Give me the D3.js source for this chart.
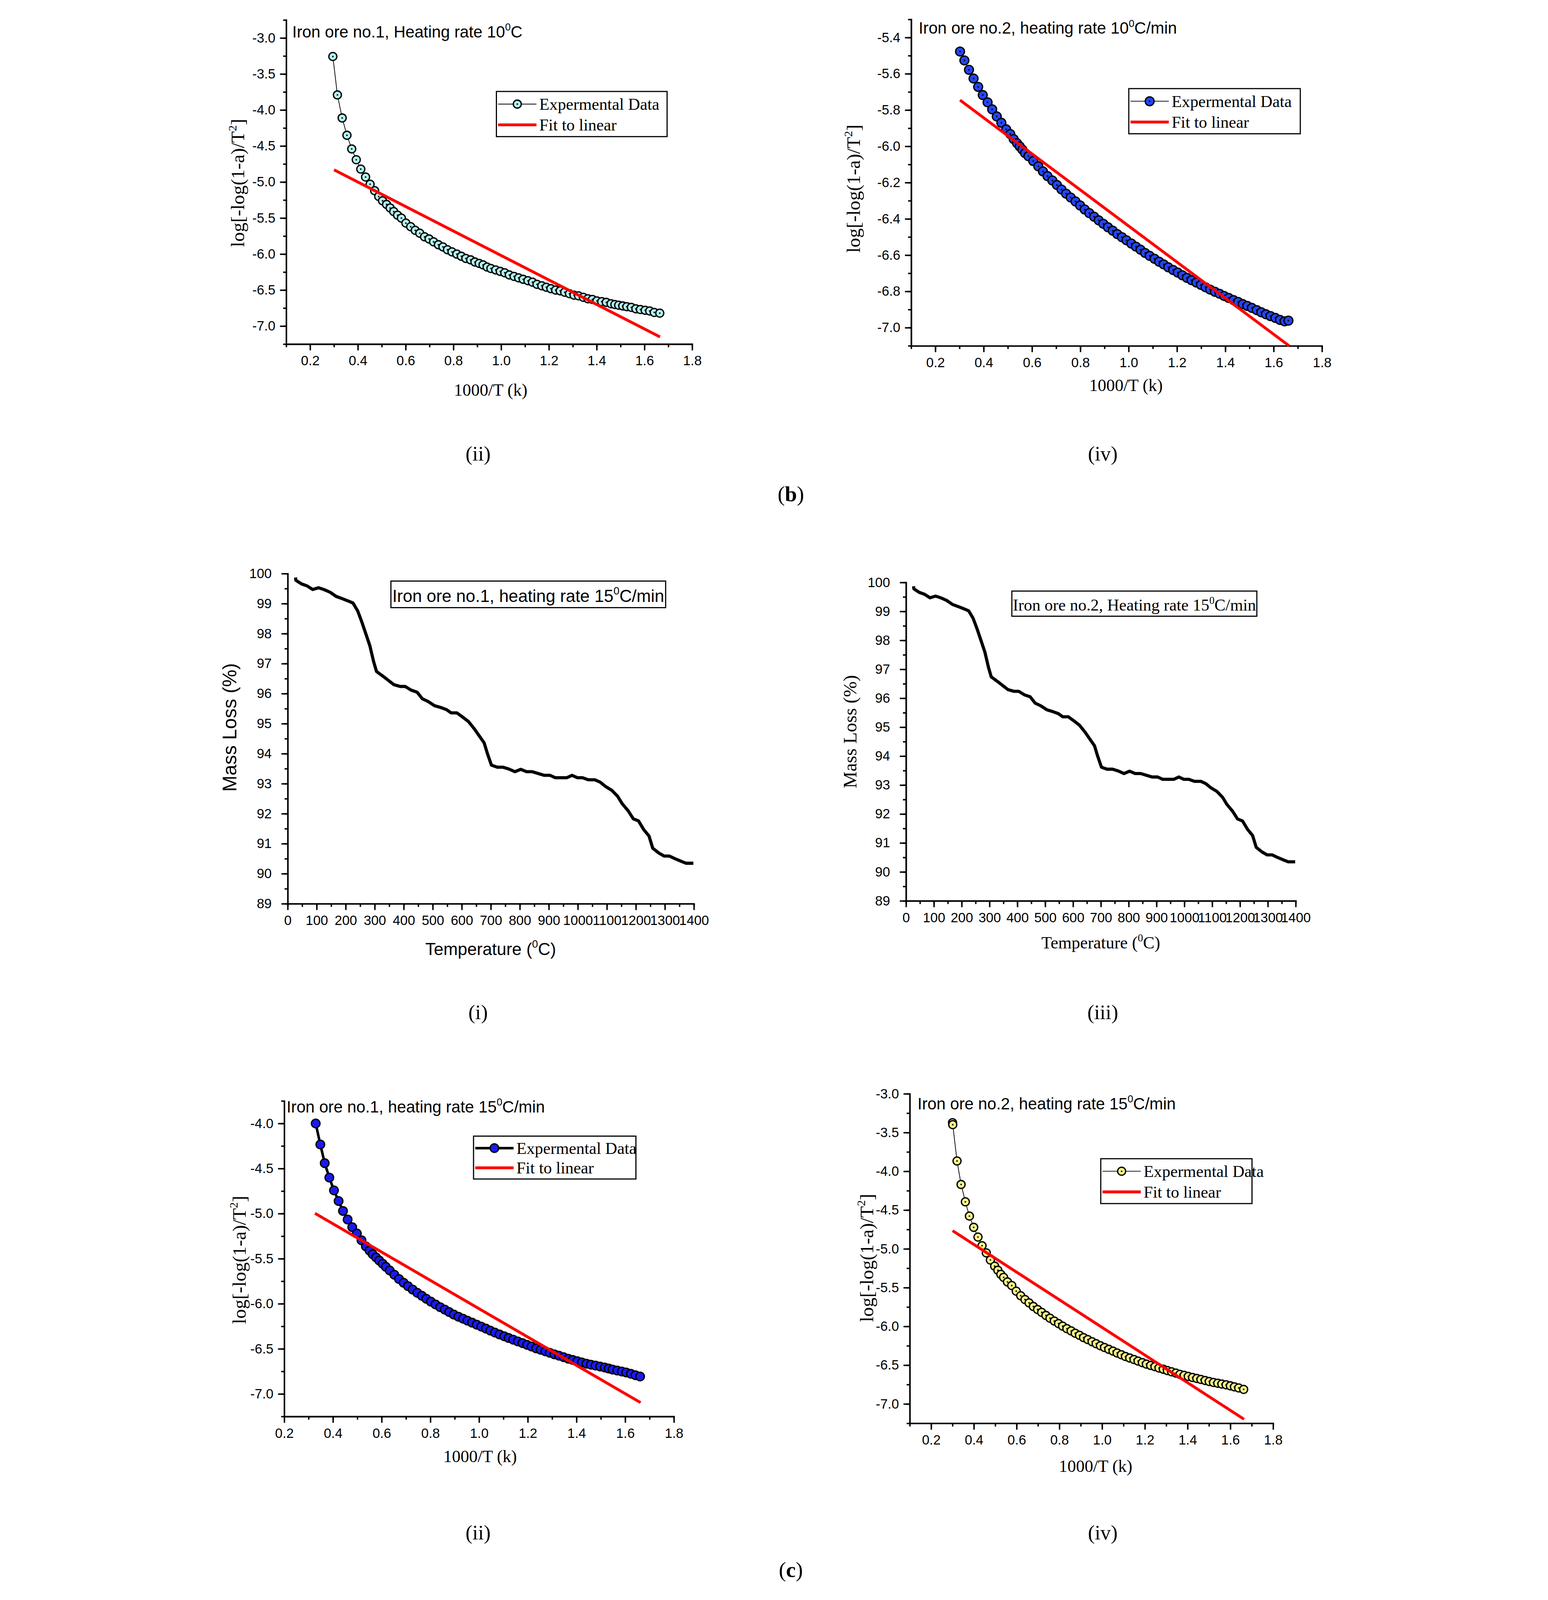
<!DOCTYPE html>
<meta charset="utf-8">
<style>
html, body { margin: 0; padding: 0; background: #fff; overflow: hidden; }
svg { display: block; }
.axis .domain, .axis line { stroke: #000; stroke-width: 5px; }
.axis text { font-family: "Liberation Sans", Arial, sans-serif; font-size: 47px; fill: #000; }
.sans { font-family: "Liberation Sans", Arial, sans-serif; }
.serif { font-family: "Liberation Serif", "Times New Roman", serif; }
</style>
<body>
<script src="https://cdn.jsdelivr.net/npm/d3@7"></script>
<script>

// ---- data ----
// 1000/T vs log[-log(1-a)/T^2], iron ore no.1, 10 C/min
var ore1Rate10 = [[0.295,-3.257],[0.314,-3.79],[0.334,-4.11],[0.354,-4.35],[0.374,-4.54],[0.393,-4.69],[0.412,-4.82],[0.432,-4.93],[0.451,-5.03],[0.47,-5.12],[0.487,-5.20],[0.503,-5.26],[0.52,-5.31],[0.535,-5.36],[0.55,-5.41],[0.566,-5.46],[0.582,-5.50],[0.601,-5.57],[0.621,-5.62],[0.64,-5.67],[0.659,-5.71],[0.679,-5.76],[0.698,-5.79],[0.717,-5.83],[0.737,-5.87],[0.756,-5.90],[0.775,-5.94],[0.794,-5.97],[0.814,-6.00],[0.833,-6.03],[0.852,-6.06],[0.872,-6.08],[0.89,-6.11],[0.908,-6.13],[0.924,-6.15],[0.941,-6.18],[0.957,-6.20],[0.977,-6.22],[0.996,-6.24],[1.015,-6.26],[1.034,-6.29],[1.054,-6.31],[1.073,-6.33],[1.092,-6.35],[1.112,-6.37],[1.131,-6.39],[1.15,-6.42],[1.17,-6.44],[1.189,-6.46],[1.208,-6.48],[1.228,-6.50],[1.247,-6.51],[1.266,-6.53],[1.286,-6.55],[1.305,-6.57],[1.324,-6.58],[1.344,-6.60],[1.363,-6.62],[1.382,-6.63],[1.401,-6.65],[1.421,-6.66],[1.44,-6.67],[1.46,-6.69],[1.476,-6.70],[1.492,-6.71],[1.509,-6.72],[1.526,-6.73],[1.545,-6.74],[1.564,-6.76],[1.583,-6.77],[1.603,-6.78],[1.622,-6.79],[1.641,-6.81],[1.664,-6.82]];
var ore1Rate10Fit = [[0.3,-4.83],[1.665,-7.15]];

// iron ore no.2, 10 C/min
var ore2Rate10 = [[0.302,-5.477],[0.32,-5.526],[0.339,-5.578],[0.358,-5.626],[0.377,-5.672],[0.396,-5.717],[0.416,-5.757],[0.435,-5.796],[0.454,-5.835],[0.473,-5.87],[0.493,-5.906],[0.51,-5.932],[0.524,-5.96],[0.538,-5.983],[0.549,-6.0],[0.56,-6.018],[0.571,-6.037],[0.585,-6.054],[0.605,-6.081],[0.626,-6.11],[0.645,-6.138],[0.664,-6.164],[0.684,-6.188],[0.703,-6.213],[0.722,-6.238],[0.741,-6.261],[0.76,-6.282],[0.78,-6.304],[0.799,-6.326],[0.818,-6.348],[0.837,-6.368],[0.857,-6.388],[0.876,-6.408],[0.895,-6.427],[0.914,-6.446],[0.934,-6.465],[0.953,-6.484],[0.972,-6.501],[0.991,-6.518],[1.011,-6.536],[1.03,-6.553],[1.049,-6.57],[1.068,-6.588],[1.087,-6.604],[1.107,-6.62],[1.126,-6.636],[1.145,-6.651],[1.164,-6.667],[1.184,-6.682],[1.203,-6.696],[1.222,-6.711],[1.241,-6.725],[1.26,-6.738],[1.28,-6.751],[1.299,-6.764],[1.318,-6.777],[1.337,-6.79],[1.357,-6.802],[1.376,-6.813],[1.395,-6.825],[1.414,-6.836],[1.434,-6.848],[1.453,-6.858],[1.472,-6.87],[1.491,-6.88],[1.51,-6.891],[1.53,-6.903],[1.549,-6.915],[1.568,-6.926],[1.587,-6.936],[1.607,-6.946],[1.626,-6.957],[1.645,-6.965],[1.661,-6.961]];
var ore2Rate10Fit = [[0.302,-5.745],[1.664,-7.1]];

// TGA, temperature (C) vs mass loss (%), heating rate 15 C/min (same curve in both ore panels)
var tgaCurve = [[27,99.87],[28,99.78],[47,99.66],[67,99.59],[86,99.47],[106,99.53],[125,99.47],[146,99.38],[167,99.24],[187,99.17],[208,99.09],[225,99.02],[241,98.76],[255,98.40],[268,98.03],[283,97.60],[296,97.07],[306,96.74],[334,96.54],[366,96.30],[388,96.24],[405,96.24],[425,96.12],[446,96.05],[464,95.83],[484,95.74],[506,95.60],[527,95.54],[547,95.47],[563,95.36],[583,95.36],[603,95.22],[623,95.07],[643,94.83],[661,94.58],[677,94.36],[688,94.01],[702,93.62],[722,93.55],[742,93.55],[762,93.49],[783,93.40],[803,93.48],[823,93.40],[843,93.40],[863,93.34],[884,93.28],[904,93.28],[922,93.20],[942,93.20],[962,93.20],[980,93.28],[998,93.20],[1016,93.20],[1036,93.13],[1059,93.13],[1077,93.05],[1095,92.91],[1117,92.78],[1137,92.58],[1153,92.33],[1173,92.10],[1191,91.83],[1209,91.76],[1227,91.47],[1245,91.26],[1258,90.85],[1279,90.69],[1297,90.59],[1315,90.59],[1335,90.50],[1357,90.41],[1373,90.35],[1398,90.35]];

// iron ore no.1, 15 C/min
var ore1Rate15 = [[0.329,-4.0],[0.348,-4.233],[0.366,-4.44],[0.385,-4.60],[0.404,-4.742],[0.423,-4.86],[0.441,-4.97],[0.46,-5.065],[0.479,-5.15],[0.498,-5.22],[0.517,-5.295],[0.535,-5.363],[0.55,-5.41],[0.563,-5.45],[0.577,-5.486],[0.59,-5.52],[0.604,-5.555],[0.617,-5.59],[0.633,-5.63],[0.652,-5.678],[0.671,-5.725],[0.69,-5.766],[0.708,-5.804],[0.727,-5.842],[0.746,-5.878],[0.765,-5.911],[0.783,-5.944],[0.802,-5.976],[0.821,-6.007],[0.84,-6.037],[0.859,-6.064],[0.877,-6.091],[0.896,-6.119],[0.915,-6.143],[0.934,-6.165],[0.952,-6.187],[0.971,-6.209],[0.99,-6.231],[1.009,-6.253],[1.028,-6.275],[1.046,-6.297],[1.065,-6.319],[1.084,-6.34],[1.103,-6.36],[1.121,-6.379],[1.14,-6.398],[1.159,-6.417],[1.178,-6.436],[1.197,-6.455],[1.215,-6.474],[1.234,-6.494],[1.253,-6.51],[1.272,-6.527],[1.29,-6.543],[1.309,-6.56],[1.328,-6.576],[1.347,-6.592],[1.366,-6.609],[1.384,-6.622],[1.403,-6.636],[1.422,-6.65],[1.441,-6.664],[1.459,-6.675],[1.478,-6.685],[1.497,-6.696],[1.516,-6.707],[1.532,-6.718],[1.548,-6.729],[1.567,-6.74],[1.586,-6.751],[1.604,-6.762],[1.623,-6.776],[1.642,-6.792],[1.661,-6.806]];
var ore1Rate15Fit = [[0.326,-4.996],[1.663,-7.096]];

// iron ore no.2, 15 C/min
var ore2Rate15 = [[0.3,-3.372],[0.301,-3.398],[0.321,-3.866],[0.34,-4.169],[0.36,-4.393],[0.379,-4.577],[0.399,-4.722],[0.419,-4.847],[0.438,-4.959],[0.458,-5.051],[0.477,-5.143],[0.497,-5.222],[0.512,-5.275],[0.526,-5.328],[0.539,-5.367],[0.557,-5.426],[0.577,-5.472],[0.598,-5.545],[0.619,-5.604],[0.639,-5.653],[0.658,-5.696],[0.678,-5.742],[0.698,-5.782],[0.717,-5.818],[0.737,-5.858],[0.756,-5.894],[0.776,-5.93],[0.796,-5.963],[0.815,-5.996],[0.835,-6.029],[0.855,-6.058],[0.874,-6.088],[0.894,-6.114],[0.913,-6.144],[0.933,-6.17],[0.953,-6.197],[0.972,-6.223],[0.992,-6.249],[1.011,-6.272],[1.031,-6.295],[1.051,-6.318],[1.07,-6.342],[1.09,-6.365],[1.109,-6.388],[1.129,-6.407],[1.149,-6.427],[1.168,-6.447],[1.188,-6.467],[1.207,-6.486],[1.227,-6.503],[1.247,-6.519],[1.266,-6.536],[1.286,-6.552],[1.305,-6.569],[1.325,-6.585],[1.345,-6.602],[1.364,-6.618],[1.384,-6.631],[1.403,-6.645],[1.423,-6.658],[1.443,-6.671],[1.462,-6.684],[1.482,-6.697],[1.501,-6.71],[1.521,-6.723],[1.541,-6.733],[1.56,-6.743],[1.58,-6.753],[1.6,-6.766],[1.619,-6.779],[1.639,-6.793],[1.662,-6.812]];
var ore2Rate15Fit = [[0.3,-4.765],[1.664,-7.197]];

// tick labels
var xTicksLog = [0.2, 0.4, 0.6, 0.8, 1.0, 1.2, 1.4, 1.6, 1.8];
var yTicksHalf = [-3.0, -3.5, -4.0, -4.5, -5.0, -5.5, -6.0, -6.5, -7.0];
var yTicksFifth = [-5.4, -5.6, -5.8, -6.0, -6.2, -6.4, -6.6, -6.8, -7.0];
var yTicksBL = [-4.0, -4.5, -5.0, -5.5, -6.0, -6.5, -7.0];
var tempTicks = [0, 100, 200, 300, 400, 500, 600, 700, 800, 900, 1000, 1100, 1200, 1300, 1400];
var massTicks = [89, 90, 91, 92, 93, 94, 95, 96, 97, 98, 99, 100];

var legendLabels = ["Expermental Data", "Fit to linear"];
var captions = [
  {t: "(ii)", x: 946, y: 1612}, {t: "(iv)", x: 3131, y: 1612},
  {t: "(i)", x: 946, y: 3566}, {t: "(iii)", x: 3131, y: 3566},
  {t: "(ii)", x: 946, y: 5386}, {t: "(iv)", x: 3131, y: 5386}
];

var W = 3962, H = 5598;

// the figure is laid out on a 3962 x 5598 canvas and scaled to whatever window it gets
var vw = window.innerWidth || W, vh = window.innerHeight || H;

var svg = d3.select("body").append("svg")
    .attr("width", vw)
    .attr("height", vh)
    .attr("viewBox", "0 0 " + W + " " + H)
    .attr("preserveAspectRatio", "xMidYMin meet");

svg.append("rect").attr("width", W).attr("height", H).attr("fill", "#fff");

// text with superscript pieces: parts = [["text"], ["0", true], ...]
function rich(sel, parts, fs) {
  var up = 0;
  parts.forEach(function(p) {
    var ts = sel.append("tspan").text(p[0]);
    if (p[1]) {
      ts.attr("font-size", fs * 0.62).attr("dy", -fs * 0.42);
      up = 1;
    } else if (up) {
      ts.attr("dy", fs * 0.42);
      up = 0;
    }
  });
  return sel;
}

function fmt1(d) { return d.toFixed(1); }

function drawAxes(c, x, y, xMinor, yMinor, xfmt, yfmt, yPad) {
  var g = svg.append("g");
  g.append("g").attr("class", "axis")
      .attr("transform", "translate(0," + c.bottom + ")")
      .call(d3.axisBottom(x).tickValues(xMinor).tickSize(11).tickSizeOuter(0).tickFormat(""));
  g.append("g").attr("class", "axis")
      .attr("transform", "translate(0," + c.bottom + ")")
      .call(d3.axisBottom(x).tickValues(c.xTicks).tickSize(22).tickSizeOuter(0).tickPadding(19).tickFormat(xfmt));
  g.append("g").attr("class", "axis")
      .attr("transform", "translate(" + c.left + ",0)")
      .call(d3.axisLeft(y).tickValues(yMinor).tickSize(11).tickSizeOuter(0).tickFormat(""));
  g.append("g").attr("class", "axis")
      .attr("transform", "translate(" + c.left + ",0)")
      .call(d3.axisLeft(y).tickValues(c.yTicks).tickSize(22).tickSizeOuter(0).tickPadding(yPad).tickFormat(yfmt));
  g.selectAll(".domain").attr("stroke-linecap", "square");
}

function logPanel(c) {
  var x = d3.scaleLinear().domain(c.xDom).range([c.left, c.right]);
  var y = d3.scaleLinear().domain(c.yDom).range([c.bottom, c.top]);
  var xMinor = d3.range(c.xDom[0], c.xDom[1] + 1e-6, 0.1);
  var yMinor = d3.range(c.yDom[1], c.yDom[0] - 1e-6, -c.yMinorStep);

  drawAxes(c, x, y, xMinor, yMinor, fmt1, fmt1, 16);

  var line = d3.line().x(function(d) { return x(d[0]); }).y(function(d) { return y(d[1]); });

  svg.append("path").datum(c.data)
      .attr("d", line).attr("fill", "none")
      .attr("stroke", "#000").attr("stroke-width", c.lineW);

  var pts = svg.append("g").selectAll("g").data(c.data).enter().append("g")
      .attr("transform", function(d) { return "translate(" + x(d[0]) + "," + y(d[1]) + ")"; });
  pts.append("circle").attr("r", c.r).attr("fill", c.fill)
      .attr("stroke", "#000").attr("stroke-width", 4.5);
  if (c.dot) pts.append("circle").attr("r", 2.8).attr("fill", "#000");

  // fit line lies over the markers in the reference
  svg.append("path").datum(c.fit)
      .attr("d", line).attr("fill", "none")
      .attr("stroke", "#ff0000").attr("stroke-width", 10);

  // title
  rich(svg.append("text").attr("class", "sans").attr("x", c.titleX).attr("y", c.titleY)
      .attr("font-size", 57), c.title, 57);

  // axis titles
  svg.append("text").attr("class", "serif").attr("x", c.xLabX).attr("y", c.xLabY)
      .attr("text-anchor", "middle").attr("font-size", 60).text("1000/T (k)");
  rich(svg.append("text").attr("class", "serif")
      .attr("transform", "translate(" + c.yLabX + "," + c.yLabY + ") rotate(-90)")
      .attr("text-anchor", "middle").attr("font-size", 67),
      [["log[-log(1-a)/T"], ["2", true], ["]"]], 67);

  // legend
  var L = c.legend;
  var lg = svg.append("g");
  lg.append("rect").attr("x", L.x).attr("y", L.y).attr("width", L.w).attr("height", L.h)
      .attr("fill", "#fff").attr("stroke", "#000").attr("stroke-width", 4);
  var r1 = L.y + L.h * 0.28, r2 = L.y + L.h * 0.74;
  lg.append("line").attr("x1", L.x + 6).attr("x2", L.x + 140).attr("y1", r1).attr("y2", r1)
      .attr("stroke", "#000").attr("stroke-width", c.lineW);
  lg.append("circle").attr("cx", L.x + 73).attr("cy", r1).attr("r", c.r)
      .attr("fill", c.fill).attr("stroke", "#000").attr("stroke-width", 4.5);
  if (c.dot) lg.append("circle").attr("cx", L.x + 73).attr("cy", r1).attr("r", 2.8).attr("fill", "#000");
  lg.append("line").attr("x1", L.x + 6).attr("x2", L.x + 140).attr("y1", r2).attr("y2", r2)
      .attr("stroke", "#ff0000").attr("stroke-width", 10);
  lg.selectAll("text.lab").data(legendLabels).enter().append("text")
      .attr("class", "serif").attr("x", L.x + 150)
      .attr("y", function(d, i) { return (i ? r2 : r1) + 20; })
      .attr("font-size", 58).text(function(d) { return d; });
}

function tgaPanel(c) {
  var x = d3.scaleLinear().domain([0, 1400]).range([c.left, c.right]);
  var y = d3.scaleLinear().domain([89, 100]).range([c.bottom, c.top]);
  drawAxes(c, x, y, d3.range(0, 1401, 50), d3.range(89, 100.01, 0.5),
      function(d) { return d; }, function(d) { return d; }, 34);

  svg.append("path").datum(tgaCurve)
      .attr("d", d3.line().x(function(d) { return x(d[0]); }).y(function(d) { return y(d[1]); }))
      .attr("fill", "none").attr("stroke", "#000").attr("stroke-width", 11)
      .attr("stroke-linejoin", "round");

  var B = c.box;
  svg.append("rect").attr("x", B.x).attr("y", B.y).attr("width", B.w).attr("height", B.h)
      .attr("fill", "none").attr("stroke", "#000").attr("stroke-width", 4);
  rich(svg.append("text").attr("class", c.font).attr("x", B.x + B.w / 2).attr("y", B.y + B.h * 0.78)
      .attr("text-anchor", "middle").attr("font-size", c.boxFs), c.title, c.boxFs);

  rich(svg.append("text").attr("class", c.font).attr("x", c.xLabX).attr("y", c.xLabY)
      .attr("text-anchor", "middle").attr("font-size", 60),
      [["Temperature ("], ["0", true], ["C)"]], 60);
  svg.append("text").attr("class", c.font)
      .attr("transform", "translate(" + c.yLabX + "," + c.yLabY + ") rotate(-90)")
      .attr("text-anchor", "middle").attr("font-size", c.yFs).text("Mass Loss (%)");
}

logPanel({
  left: 275, right: 1695, top: 70, bottom: 1204,
  xDom: [0.1, 1.8], yDom: [-7.25, -2.75], xTicks: xTicksLog, yTicks: yTicksHalf, yMinorStep: 0.25,
  data: ore1Rate10, fit: ore1Rate10Fit, fill: "#b2f2ee", r: 14, dot: true, lineW: 2.5,
  title: [["Iron ore no.1, Heating rate 10"], ["0", true], ["C"]], titleX: 296, titleY: 131,
  xLabX: 990, xLabY: 1385, yLabX: 128, yLabY: 640,
  legend: {x: 1010, y: 320, w: 597, h: 158}
});

logPanel({
  left: 2461, right: 3898, top: 68, bottom: 1210,
  xDom: [0.1, 1.8], yDom: [-7.1, -5.3], xTicks: xTicksLog, yTicks: yTicksFifth, yMinorStep: 0.1,
  data: ore2Rate10, fit: ore2Rate10Fit, fill: "#2446f5", r: 15.5, dot: true, lineW: 2.5,
  title: [["Iron ore no.2, heating rate 10"], ["0", true], ["C/min"]], titleX: 2487, titleY: 118,
  xLabX: 3212, xLabY: 1368, yLabX: 2282, yLabY: 660,
  legend: {x: 3222, y: 310, w: 600, h: 158}
});

tgaPanel({
  left: 280, right: 1701, top: 2007, bottom: 3162, xTicks: tempTicks, yTicks: massTicks,
  font: "sans", boxFs: 60, yFs: 68,
  title: [["Iron ore no.1, heating rate 15"], ["0", true], ["C/min"]],
  box: {x: 641, y: 2033, w: 961, h: 93},
  xLabX: 990, xLabY: 3341, yLabX: 100, yLabY: 2545
});

tgaPanel({
  left: 2443, right: 3806, top: 2038, bottom: 3152, xTicks: tempTicks, yTicks: massTicks,
  font: "serif", boxFs: 58, yFs: 66,
  title: [["Iron ore no.2, Heating rate 15"], ["0", true], ["C/min"]],
  box: {x: 2813, y: 2068, w: 857, h: 88},
  xLabX: 3124, xLabY: 3319, yLabX: 2270, yLabY: 2560
});

logPanel({
  left: 268, right: 1631, top: 3852, bottom: 4956,
  xDom: [0.2, 1.8], yDom: [-7.25, -3.75], xTicks: xTicksLog, yTicks: yTicksBL, yMinorStep: 0.25,
  data: ore1Rate15, fit: ore1Rate15Fit, fill: "#1a1af0", r: 15, dot: false, lineW: 9,
  title: [["Iron ore no.1, heating rate 15"], ["0", true], ["C/min"]], titleX: 276, titleY: 3892,
  xLabX: 953, xLabY: 5116, yLabX: 133, yLabY: 4408,
  legend: {x: 930, y: 3975, w: 568, h: 150}
});

logPanel({
  left: 2456, right: 3727, top: 3827, bottom: 4980,
  xDom: [0.1, 1.8], yDom: [-7.25, -3.0], xTicks: xTicksLog, yTicks: yTicksHalf, yMinorStep: 0.25,
  data: ore2Rate15, fit: ore2Rate15Fit, fill: "#f6f58a", r: 14, dot: true, lineW: 2.5,
  title: [["Iron ore no.2, heating rate 15"], ["0", true], ["C/min"]], titleX: 2483, titleY: 3881,
  xLabX: 3106, xLabY: 5150, yLabX: 2328, yLabY: 4401,
  legend: {x: 3124, y: 4054, w: 529, h: 157}
});

// sub-figure captions
svg.selectAll("text.cap").data(captions).enter().append("text")
    .attr("class", "serif").attr("x", function(d) { return d.x; }).attr("y", function(d) { return d.y; })
    .attr("text-anchor", "middle").attr("font-size", 72).text(function(d) { return d.t; });

[["b", 1753], ["c", 5518]].forEach(function(p) {
  var t = svg.append("text").attr("class", "serif").attr("x", 2040).attr("y", p[1])
      .attr("text-anchor", "middle").attr("font-size", 76);
  t.append("tspan").text("(");
  t.append("tspan").attr("font-weight", "bold").text(p[0]);
  t.append("tspan").text(")");
});

</script>
</body>
